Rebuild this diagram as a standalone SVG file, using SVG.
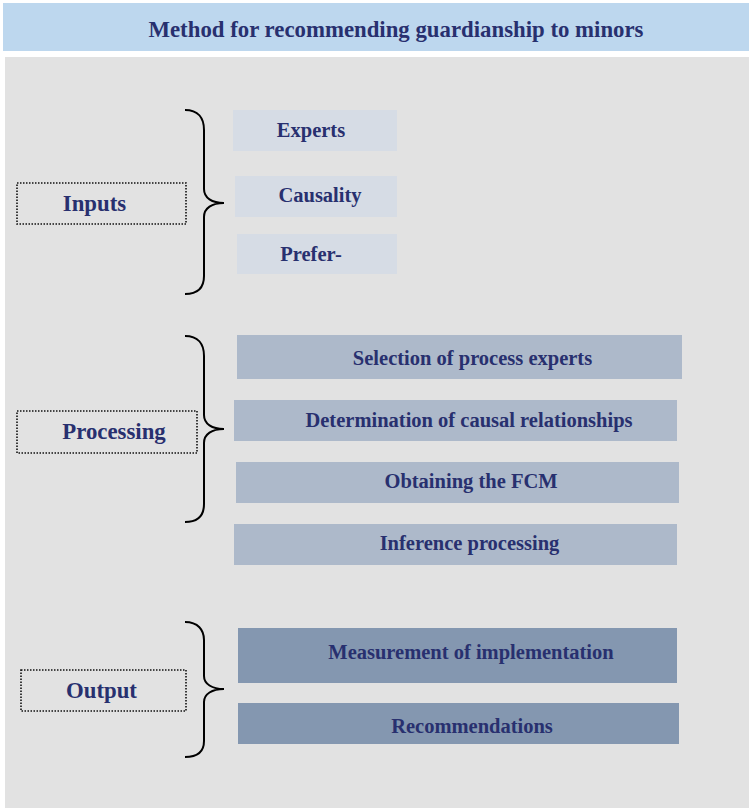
<svg xmlns="http://www.w3.org/2000/svg" width="749" height="809" viewBox="0 0 749 809">
  <style>
    .lbl { font-family: "Liberation Serif", "Times New Roman", serif; font-weight: bold; fill: #28306f; text-anchor: middle; }
    .big { font-size: 22.8px; }
    .item { font-size: 20.5px; }
    .cat { fill: none; stroke: #111; stroke-width: 1.6; stroke-dasharray: 1.5 1.5; }
    .brace { fill: none; stroke: #000; stroke-width: 2; }
    .in { fill: #d6dce5; }
    .proc { fill: #adb9ca; }
    .out { fill: #8497b0; }
  </style>

  <rect x="0" y="0" width="749" height="809" fill="#ffffff"/>

  <!-- header -->
  <g id="title">
    <rect x="3" y="3" width="746" height="48" fill="#bdd7ee"/>
    <text class="lbl big" x="396" y="37">Method for recommending guardianship to minors</text>
  </g>

  <!-- main panel -->
  <rect x="5" y="57" width="744" height="751" fill="#e2e2e2"/>

  <!-- category labels -->
  <g id="inputs">
    <rect class="cat" x="17" y="183" width="169" height="41"/>
    <text class="lbl big" x="94.5" y="211">Inputs</text>
  </g>
  <g id="processing">
    <rect class="cat" x="17" y="411" width="180" height="42"/>
    <text class="lbl big" x="114" y="439">Processing</text>
  </g>
  <g id="output">
    <rect class="cat" x="21" y="670" width="165" height="41"/>
    <text class="lbl big" x="101.5" y="698">Output</text>
  </g>

  <!-- braces linking categories to their items -->
  <g id="connectors">
    <path class="brace" d="M185,110 C198,110 204,118 204,130 L204,189 C204,198 212,203 224,203 C212,203 204,208 204,217 L204,276 C204,288 198,294 185,294"/>
    <path class="brace" d="M185,336 C198,336 204,344 204,356 L204,415 C204,424 212,429 224,429 C212,429 204,434 204,443 L204,504 C204,516 198,522 185,522"/>
    <path class="brace" d="M185,622 C198,622 204,630 204,640 L204,676 C204,684 212,689 224,689 C212,689 204,694 204,702 L204,741 C204,751 198,757 185,757"/>
  </g>

  <!-- input items -->
  <g id="experts">
    <rect class="in" x="233" y="110" width="164" height="41"/>
    <text class="lbl item" x="311" y="137">Experts</text>
  </g>
  <g id="causality">
    <rect class="in" x="235" y="176" width="162" height="41"/>
    <text class="lbl item" x="320" y="202">Causality</text>
  </g>
  <g id="preferences">
    <rect class="in" x="237" y="234" width="160" height="40"/>
    <text class="lbl item" x="311" y="261">Prefer-</text>
  </g>

  <!-- processing items -->
  <g id="selection">
    <rect class="proc" x="237" y="335" width="445" height="44"/>
    <text class="lbl item" x="472.5" y="365">Selection of process experts</text>
  </g>
  <g id="determination">
    <rect class="proc" x="234" y="400" width="443" height="41"/>
    <text class="lbl item" x="469" y="427">Determination of causal relationships</text>
  </g>
  <g id="obtaining">
    <rect class="proc" x="236" y="462" width="443" height="41"/>
    <text class="lbl item" x="471" y="488">Obtaining the FCM</text>
  </g>
  <g id="inference">
    <rect class="proc" x="234" y="524" width="443" height="41"/>
    <text class="lbl item" x="469.5" y="550">Inference processing</text>
  </g>

  <!-- output items -->
  <g id="measurement">
    <rect class="out" x="238" y="628" width="439" height="55"/>
    <text class="lbl item" x="471" y="659">Measurement of implementation</text>
  </g>
  <g id="recommendations">
    <rect class="out" x="238" y="703" width="441" height="41"/>
    <text class="lbl item" x="472" y="733">Recommendations</text>
  </g>
</svg>
